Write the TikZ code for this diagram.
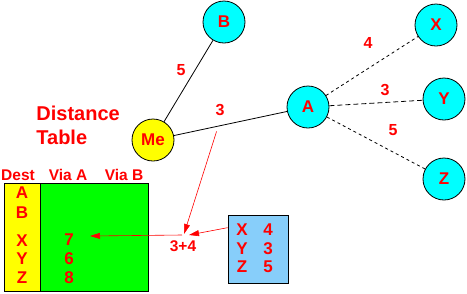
\documentclass[tikz,border=0pt]{standalone}
\usepackage{fontspec}
\setmainfont{Liberation Sans}
\usetikzlibrary{arrows.meta, calc}

\definecolor{skyblue}{RGB}{135,206,250}
\definecolor{nodecyan}{RGB}{0,255,255}
\definecolor{meyellow}{RGB}{255,255,0}
\definecolor{tablegreen}{RGB}{0,255,0}
\definecolor{labelred}{RGB}{255,0,0}

\begin{document}
\begin{tikzpicture}[x=1pt, y=-1pt, line width=0.8pt,
    font=\bfseries, >={Triangle[length=10pt,width=6pt]},
    router/.style={circle, draw=black, fill=nodecyan, minimum size=42pt, inner sep=0pt,
      text=labelred, font=\fontsize{17}{17}\selectfont\bfseries},
    cost/.style={text=labelred, font=\fontsize{16}{16}\selectfont\bfseries},
    cell/.style={text=labelred, font=\fontsize{17}{17}\selectfont\bfseries},
    head/.style={text=labelred, font=\fontsize{15.5}{15.5}\selectfont\bfseries},
    redarrow/.style={->, labelred, line width=0.6pt}]

    \useasboundingbox (0,0) rectangle (467,293);

    % routers
    \node[router, fill=meyellow] (Me) at (153,140) {Me};
    \node[router] (B) at (224,22) {B};
    \node[router] (A) at (308,107) {A};
    \node[router] (X) at (436,25) {X};
    \node[router] (Y) at (444,99) {Y};
    \node[router] (Z) at (444,179) {Z};

    % links
    \draw (Me) -- (B);
    \draw (Me) -- (A);
    \draw[dash pattern=on 3pt off 3pt] (A) -- (X);
    \draw[dash pattern=on 5pt off 3pt] (A) -- (Y);
    \draw[dash pattern=on 3pt off 3pt] (A) -- (Z);

    \node[cost] (cMB) at (181,70) {5};
    \node[cost] (cMA) at (220,110) {3};
    \node[cost] (cAX) at (368,43) {4};
    \node[cost] (cAY) at (385,90) {3};
    \node[cost] (cAZ) at (393,130) {5};

    % title
    \node[text=labelred, font=\fontsize{20}{24}\selectfont\bfseries, align=left, anchor=west,
      inner sep=0pt] (title) at (36,125) {Distance\\Table};

    % distance table
    \fill[meyellow] (4,183) rectangle (40,291);
    \fill[tablegreen] (40,183) rectangle (148,291);
    \draw (4,183) rectangle (148,291);
    \draw (40,183) -- (40,291);
    \node[head] (hDest) at (18,175) {Dest};
    \node[head] (hViaA) at (68,175) {Via A};
    \node[head] (hViaB) at (124,175) {Via B};
    \foreach \d/\y in {A/193, B/213, X/241, Y/259, Z/278}{
      \node[cell] (d\d) at (22,\y) {\d};
    }
    \foreach \v/\y in {7/240, 6/259, 8/278}{
      \node[cell] (v\v) at (69,\y) {\v};
    }

    % vector received from A
    \node[draw=black, fill=skyblue, minimum width=60pt, minimum height=68pt,
      inner sep=0pt] (vecA) at (258,249) {};
    \foreach \d/\c/\y in {X/4/230, Y/3/249, Z/5/267}{
      \node[cell] (a\d) at (242,\y) {\d};
      \node[cell] (ac\d) at (268,\y) {\c};
    }

    % computing 3+4
    \node[head] (sum) at (183,246) {3+4};
    \coordinate (onlink) at ($(Me)!0.41!(A)$);
    \coordinate (tipL) at (184,234);
    \coordinate (tipR) at (189,235);
    \coordinate (sumL) at (182,235);
    \coordinate (entry) at (90,236);
    \draw[redarrow] ([yshift=-5pt]onlink) -- (tipL);
    \draw[redarrow] ($(vecA.north west)!0.19!(vecA.south west)$) -- (tipR);
    \draw[redarrow] (sumL) -- (entry);

\end{tikzpicture}
\end{document}
